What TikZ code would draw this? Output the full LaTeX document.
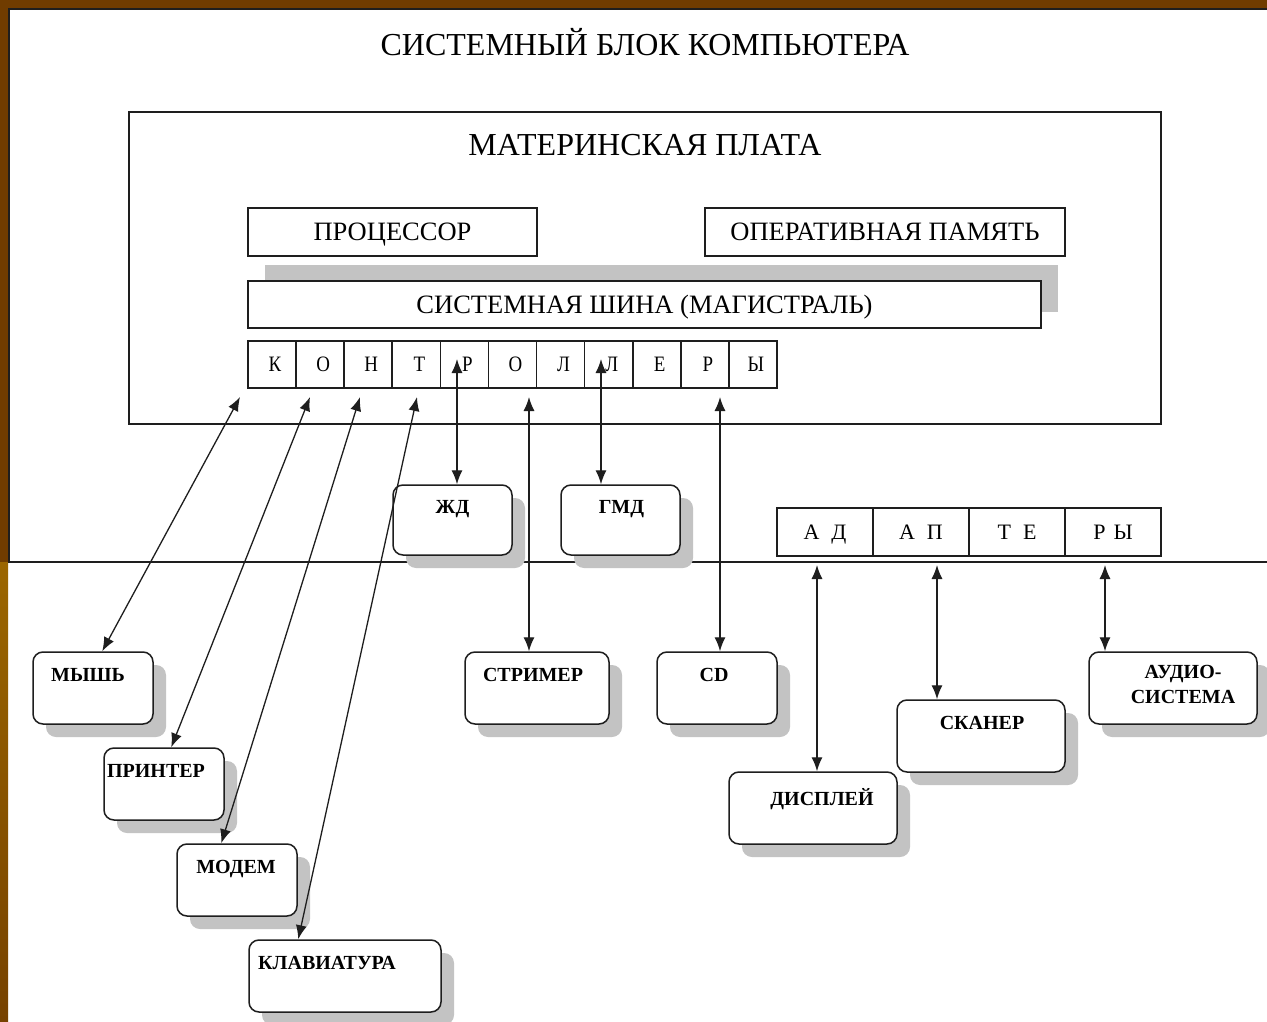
\documentclass[tikz,border=0pt]{standalone}
\usepackage{fontspec}
\setmainfont{Liberation Serif}
\newfontfamily\narrowfont[FakeStretch=0.86]{Liberation Serif}
\usetikzlibrary{calc,arrows.meta,shadows}
\tikzset{x=1pt,y=-1pt}
\definecolor{framebrown}{RGB}{112,60,0}
\definecolor{framegold}{RGB}{155,102,0}
\definecolor{framedark}{RGB}{118,66,0}
\definecolor{linecol}{RGB}{30,30,30}
\definecolor{shadowgray}{RGB}{195,195,195}
\tikzset{
  heading/.style={inner sep=0pt, font=\fontsize{32}{34}\selectfont},
  plainbox/.style={draw=linecol, line width=1.7pt, fill=white, inner sep=0pt,
    text depth=0pt, font=\fontsize{26.5}{28}\selectfont},
  cellbox/.style={plainbox, minimum width=48.1, minimum height=47,
    font=\narrowfont\fontsize{22}{24}\selectfont},
  adbox/.style={plainbox, minimum width=96, minimum height=48,
    font=\fontsize{22}{24}\selectfont},
  devbox/.style={draw=linecol, line width=1.5pt, fill=white, rounded corners=10pt,
    drop shadow={shadow xshift=13pt, shadow yshift=-13pt, fill=shadowgray, opacity=1}},
  devtext/.style={inner sep=0pt, anchor=north, align=center,
    font=\bfseries\fontsize{20}{25}\selectfont},
  link/.style={draw=linecol, line width=1.3pt,
    {Latex[length=14pt,width=11pt]}-{Latex[length=14pt,width=11pt]}},
}

\begin{document}
\begin{tikzpicture}
\useasboundingbox (0,0) rectangle (1267,1022);

% frame of the slide
\fill[white] (0,0) rectangle (1267,1022);
\fill[framebrown] (0,0) rectangle (1267,8);
\fill[framebrown] (0,0) rectangle (8,562);
\shade[top color=framegold, bottom color=framedark] (0,562) rectangle (8,1022);

% system block
\draw[linecol, line width=2pt] (1267,9.5) -- (8.5,9.5) -- (8.5,562) -- (1267,562);
\node[heading] (sysblock) at (645,42) {СИСТЕМНЫЙ БЛОК КОМПЬЮТЕРА};

% motherboard
\node[plainbox, minimum width=1032, minimum height=312] (board) at (645,268) {};
\node[heading] (boardname) at ($(board.north)+(0,34)$) {МАТЕРИНСКАЯ ПЛАТА};

\node[plainbox, minimum width=289, minimum height=48] (cpu) at (392.5,232) {ПРОЦЕССОР};
\node[plainbox, minimum width=360, minimum height=48] (ram) at (885,232) {ОПЕРАТИВНАЯ ПАМЯТЬ};
\node[plainbox, minimum width=793, minimum height=47,
  drop shadow={shadow xshift=17pt, shadow yshift=16pt, fill=shadowgray, opacity=1}]
  (bus) at (644.5,304.5) {СИСТЕМНАЯ ШИНА (МАГИСТРАЛЬ)};

% controllers
\foreach \l [count=\i] in {К,О,Н,Т,Р,О,Л,Л,Е,Р,Ы}
  \node[cellbox] (c\i) at ({248+48.09*(\i-0.5)},364.5) {\hspace{6pt}\l};

% adapters
\foreach \l [count=\i] in {А\hspace{12pt}Д,А\hspace{12pt}П,Т\hspace{12pt}Е,Р\hspace{8pt}Ы}
  \node[adbox] (a\i) at ({777+96*(\i-0.5)},532) {\l};

% devices
\node[devbox, minimum width=120, minimum height=72] (mouse) at (93,688) {};
\node[devtext] at ($(mouse.north)+(-5,17)$) {МЫШЬ};
\node[devbox, minimum width=120, minimum height=72] (printer) at (164,784) {};
\node[devtext] at ($(printer.north)+(-8,17)$) {ПРИНТЕР};
\node[devbox, minimum width=120, minimum height=72] (modem) at (237,880) {};
\node[devtext] at ($(modem.north)+(-1,17)$) {МОДЕМ};
\node[devbox, minimum width=192, minimum height=72] (keyboard) at (345,976) {};
\node[devtext] at ($(keyboard.north)+(-18,17)$) {КЛАВИАТУРА};

\node[devbox, minimum width=119, minimum height=70] (hdd) at (452.5,520) {};
\node[devtext] at ($(hdd.north)+(0,16)$) {ЖД};
\node[devbox, minimum width=119, minimum height=70] (fdd) at (620.5,520) {};
\node[devtext] at ($(fdd.north)+(1,16)$) {ГМД};

\node[devbox, minimum width=144, minimum height=72] (streamer) at (537,688) {};
\node[devtext] at ($(streamer.north)+(-4,17)$) {СТРИМЕР};
\node[devbox, minimum width=120, minimum height=72] (cd) at (717,688) {};
\node[devtext] at ($(cd.north)+(-3,17)$) {CD};
\node[devbox, minimum width=168, minimum height=72] (display) at (813,808) {};
\node[devtext] at ($(display.north)+(9,17)$) {ДИСПЛЕЙ};
\node[devbox, minimum width=168, minimum height=72] (scanner) at (981,736) {};
\node[devtext] at ($(scanner.north)+(1,17)$) {СКАНЕР};
\node[devbox, minimum width=168, minimum height=72] (audio) at (1173,688) {};
\node[devtext] at ($(audio.north)+(10,14)$) {АУДИО-\\СИСТЕМА};

% ends of the links at the boards
\coordinate (mouse-end) at (240,397);
\coordinate (printer-end) at (310,397);
\coordinate (modem-end) at (360,397);
\coordinate (keyboard-end) at (417,397);
\coordinate (hdd-end) at (457,359);
\coordinate (fdd-end) at (601,359);
\coordinate (streamer-end) at (529,397);
\coordinate (cd-end) at (720,397);
\coordinate (display-end) at (817,565);
\coordinate (scanner-end) at (937,565);
\coordinate (audio-end) at (1105,565);

\draw[link] (mouse-end) -- ($(mouse.north west)+(70,0)$);
\draw[link] (printer-end) -- ($(printer.north west)+(68,0)$);
\draw[link] (modem-end) -- ($(modem.north west)+(45,0)$);
\draw[link] (keyboard-end) -- ($(keyboard.north west)+(50,0)$);
\draw[link] (hdd-end) -- (hdd-end |- hdd.north);
\draw[link] (fdd-end) -- (fdd-end |- fdd.north);
\draw[link] (streamer-end) -- (streamer-end |- streamer.north);
\draw[link] (cd-end) -- (cd-end |- cd.north);
\draw[link] (display-end) -- (display-end |- display.north);
\draw[link] (scanner-end) -- (scanner-end |- scanner.north);
\draw[link] (audio-end) -- (audio-end |- audio.north);

\end{tikzpicture}
\end{document}
